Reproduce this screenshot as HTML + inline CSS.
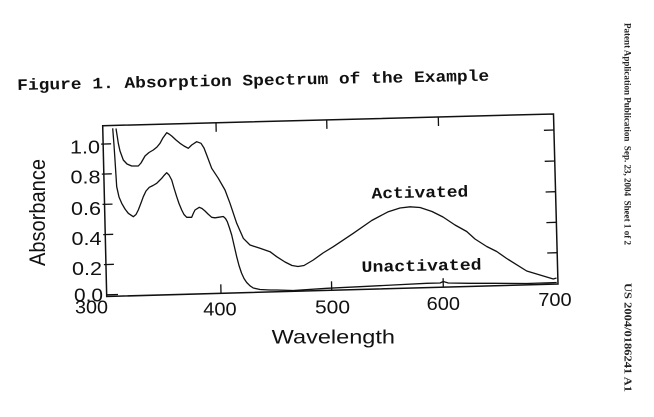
<!DOCTYPE html>
<html>
<head>
<meta charset="utf-8">
<style>
html,body{margin:0;padding:0;background:#fff;}
svg{display:block;}
</style>
</head>
<body>
<svg width="654" height="417" viewBox="0 0 654 417" xmlns="http://www.w3.org/2000/svg">
<rect x="0" y="0" width="654" height="417" fill="#ffffff"/>

<!-- Title -->
<text x="17.3" y="90" transform="rotate(-1.13 17.3 90)" font-family="'Liberation Mono', monospace" font-weight="bold" font-size="16" textLength="472" lengthAdjust="spacingAndGlyphs" fill="#111">Figure 1. Absorption Spectrum of the Example</text>

<!-- Frame -->
<polygon points="102.7,125.7 553.5,114 558,284 106.7,296.5" fill="none" stroke="#111" stroke-width="1.5"/>

<g stroke="#111" stroke-width="1.3">
<!-- Top ticks -->
<line x1="216" y1="122.8" x2="216.2" y2="131.8"/>
<line x1="326.7" y1="119.9" x2="326.9" y2="128.9"/>
<line x1="438.3" y1="117" x2="438.5" y2="126"/>
<!-- Bottom ticks -->
<line x1="221" y1="293.3" x2="220.8" y2="284.3"/>
<line x1="331.7" y1="290.3" x2="331.5" y2="281.3"/>
<line x1="443.3" y1="287.2" x2="443.1" y2="278.2"/>
<!-- Left ticks -->
<line x1="101.1" y1="144.1" x2="111.1" y2="143.8"/>
<line x1="101.8" y1="174.1" x2="111.8" y2="173.8"/>
<line x1="102.5" y1="204.4" x2="112.5" y2="204.1"/>
<line x1="103.2" y1="234.6" x2="113.2" y2="234.3"/>
<line x1="103.9" y1="264.6" x2="113.9" y2="264.3"/>
<line x1="106.6" y1="294.8" x2="118" y2="294.5"/>
<!-- Right ticks -->
<line x1="553.9" y1="130" x2="543.9" y2="130.3"/>
<line x1="554.7" y1="161" x2="544.7" y2="161.3"/>
<line x1="555.6" y1="191.7" x2="545.6" y2="192"/>
<line x1="556.4" y1="222.3" x2="546.4" y2="222.6"/>
<line x1="557.2" y1="252.7" x2="547.2" y2="253"/>
</g>

<!-- Y tick labels -->
<g font-family="'Liberation Sans', Arial, sans-serif" font-size="18.5" fill="#111">
<text x="70" y="153.3" textLength="30" lengthAdjust="spacingAndGlyphs">1.0</text>
<text x="70.5" y="183.3" textLength="30" lengthAdjust="spacingAndGlyphs">0.8</text>
<text x="71" y="215" textLength="30" lengthAdjust="spacingAndGlyphs">0.6</text>
<text x="71.5" y="245" textLength="30" lengthAdjust="spacingAndGlyphs">0.4</text>
<text x="72" y="275" textLength="30" lengthAdjust="spacingAndGlyphs">0.2</text>
<text x="74" y="301.7" textLength="29" lengthAdjust="spacingAndGlyphs">0.0</text>
</g>

<!-- X tick labels -->
<g font-family="'Liberation Sans', Arial, sans-serif" font-size="18.5" fill="#111">
<text x="75" y="313.3" textLength="33" lengthAdjust="spacingAndGlyphs">300</text>
<text x="203.3" y="315.5" textLength="33.4" lengthAdjust="spacingAndGlyphs">400</text>
<text x="315" y="313.3" textLength="35" lengthAdjust="spacingAndGlyphs">500</text>
<text x="426.7" y="310" textLength="33.3" lengthAdjust="spacingAndGlyphs">600</text>
<text x="538.3" y="306" textLength="33.4" lengthAdjust="spacingAndGlyphs">700</text>
</g>

<!-- Axis titles -->
<text x="271.7" y="343.3" font-family="'Liberation Sans', Arial, sans-serif" font-size="19.5" textLength="123.3" lengthAdjust="spacingAndGlyphs" fill="#111">Wavelength</text>
<text x="0" y="0" transform="translate(45 266) rotate(-90)" font-family="'Liberation Sans', Arial, sans-serif" font-size="22" textLength="107" lengthAdjust="spacingAndGlyphs" fill="#111">Absorbance</text>

<!-- Curve labels -->
<text x="371.7" y="198.5" transform="rotate(-1.2 371.7 198.5)" font-family="'Liberation Mono', monospace" font-weight="bold" font-size="16" textLength="96.7" lengthAdjust="spacingAndGlyphs" fill="#111">Activated</text>
<text x="361.7" y="272" transform="rotate(-1.2 361.7 272)" font-family="'Liberation Mono', monospace" font-weight="bold" font-size="16" textLength="120" lengthAdjust="spacingAndGlyphs" fill="#111">Unactivated</text>

<!-- Activated curve -->
<polyline fill="none" stroke="#111" stroke-width="1.3" stroke-linejoin="round" points="
116,128.5 117.5,138 118.3,143.3 120,151 123.3,160 127,164 131.7,166 138.3,166 141,163 145,156 149,152.5 153.3,150 157,147 160,143.3 162.7,138.3 166.7,132.7 169,134 171.7,136 176,140 180,143.3 184,146 188.3,148.3 191.7,145 196.7,141.7 201,143.3 204,148 206.7,155 211.7,168.3 218.3,178.3 225,190 230,203.3 236.7,223.3 243.3,238.3 250,245 260,248.3 270,251.7 276.7,256.7 285,262 292,265.5 298,266.5 304,265.5 313.3,260 323,253 333.3,246.7 353.3,233.3 371.7,220.5 388.3,211.7 400,208 410,206.8 420,207.5 432,211.5 443,217 455,225 466.7,231.5 475,239 486.7,246.5 496.7,251.5 506.7,258.5 526.7,271 540,275 553.3,279 556.5,278"/>

<!-- Unactivated curve -->
<polyline fill="none" stroke="#111" stroke-width="1.3" stroke-linejoin="round" points="
112.7,128.3 114,145 115,160 116.7,186.7 119,197 121.7,203.3 125,209 128.3,213.3 133.3,216.7 136,214.5 138.3,210 141,203 143.3,196.7 146,191 149.3,187.3 153,185.5 156.7,183.3 159,181 161.7,178.3 164,175.5 166.7,172.7 169,175 171.7,180 174,188 176.7,196.7 179,203.5 181.7,210 184,214.5 186.7,217.3 191.7,217.3 193.5,213 195,210 199.3,207.3 202,208.5 205,211 208,214 211.7,217.3 215,217.8 218.3,217.3 223.3,216.5 225.5,218.5 227.3,221.7 229.5,228 231.7,235 234,245 236.7,256.7 239,265.5 241.5,273 244,278.5 246.7,282.5 250,285.8 253.3,288 260,289.5 270,290 276.7,290 293.3,290.5 326.7,288.3 360,286.7 393.3,285 426.7,283.3 440,283 443.3,281.5 448.3,283 470,283.3 493.3,283.3 526.7,283.5 556.7,282.5"/>

<!-- Right vertical header -->
<text x="0" y="0" transform="translate(624.5 23) rotate(90)" font-family="'Liberation Serif', 'Times New Roman', serif" font-weight="bold" font-size="9.8" textLength="222" lengthAdjust="spacingAndGlyphs" fill="#222" xml:space="preserve">Patent Application Publication  Sep. 23, 2004  Sheet 1 of 2</text>
<text x="0" y="0" transform="translate(624.5 283) rotate(90)" font-family="'Liberation Serif', 'Times New Roman', serif" font-weight="bold" font-size="11" textLength="109" lengthAdjust="spacingAndGlyphs" fill="#222">US 2004/0186241 A1</text>
</svg>
</body>
</html>
